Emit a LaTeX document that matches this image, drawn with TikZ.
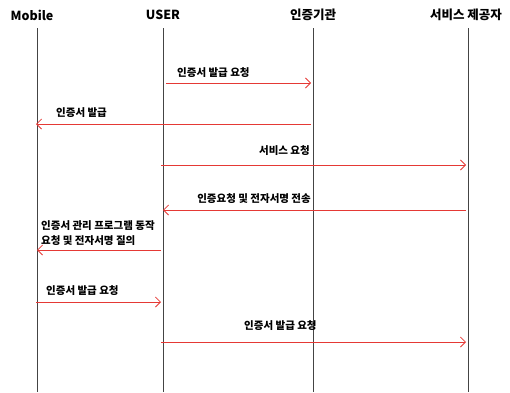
\documentclass[tikz,border=0pt]{standalone}
\usepackage{fontspec}
\setmainfont{Noto Sans CJK KR}
\usetikzlibrary{arrows.meta}
\definecolor{msgred}{HTML}{E53935}
\definecolor{lifegray}{HTML}{444444}
\tikzset{
  hdr/.style={font=\bfseries\fontsize{12.5}{14}\selectfont, inner sep=0pt},
  lbl/.style={font=\bfseries\fontsize{10.5}{15}\selectfont, inner sep=0pt, align=left},
  life/.style={draw=lifegray, line width=0.7pt},
  msg/.style={draw=msgred, line width=0.8pt, -{Straight Barb[length=5pt,width=10pt,line width=0.8pt]}}
}
\begin{document}
\begin{tikzpicture}[x=1pt,y=-1pt]
\useasboundingbox (0,0) rectangle (510,392);
% headers
\node[hdr] (hm) at (32,15) {Mobile};
\node[hdr] (hu) at (163,15) {USER};
\node[hdr] (hc) at (313,15) {인증기관};
\node[hdr] (hs) at (466,15) {서비스 제공자};
% lifelines
\coordinate (mt) at (37,28);  \coordinate (mb) at (37,392);
\coordinate (ut) at (163,28); \coordinate (ub) at (163,392);
\coordinate (ct) at (313,28); \coordinate (cb) at (313,392);
\coordinate (st) at (468,28); \coordinate (sb) at (468,392);
\draw[life] (mt) -- (mb);
\draw[life] (ut) -- (ub);
\draw[life] (ct) -- (cb);
\draw[life] (st) -- (sb);
% message endpoints
\coordinate (u1) at (166,83);  \coordinate (c1) at (311,83);
\coordinate (c2) at (311,124); \coordinate (m2) at (36,124);
\coordinate (u3) at (161,165); \coordinate (s3) at (466,165);
\coordinate (s4) at (466,210); \coordinate (u4) at (163,210);
\coordinate (u5) at (161,250); \coordinate (m5) at (37,250);
\coordinate (m6) at (36,302);  \coordinate (u6) at (161,302);
\coordinate (u7) at (161,342); \coordinate (s7) at (466,342);
\draw[msg] (u1) -- (c1);
\draw[msg] (c2) -- (m2);
\draw[msg] (u3) -- (s3);
\draw[msg] (s4) -- (u4);
\draw[msg] (u5) -- (m5);
\draw[msg] (m6) -- (u6);
\draw[msg] (u7) -- (s7);
% labels
\node[lbl, anchor=west] (l1) at (177,73) {인증서 발급 요청};
\node[lbl, anchor=west] (l2) at (56,113) {인증서 발급};
\node[lbl, anchor=east] (l3) at (310,151) {서비스 요청};
\node[lbl, anchor=east] (l4) at (311,199) {인증요청 및 전자서명 전송};
\node[lbl, anchor=west] (l5) at (41,233) {인증서 관리 프로그램 동작\\요청 및 전자서명 질의};
\node[lbl, anchor=west] (l6) at (46,291) {인증서 발급 요청};
\node[lbl, anchor=west] (l7) at (244,326) {인증서 발급 요청};
\end{tikzpicture}
\end{document}
